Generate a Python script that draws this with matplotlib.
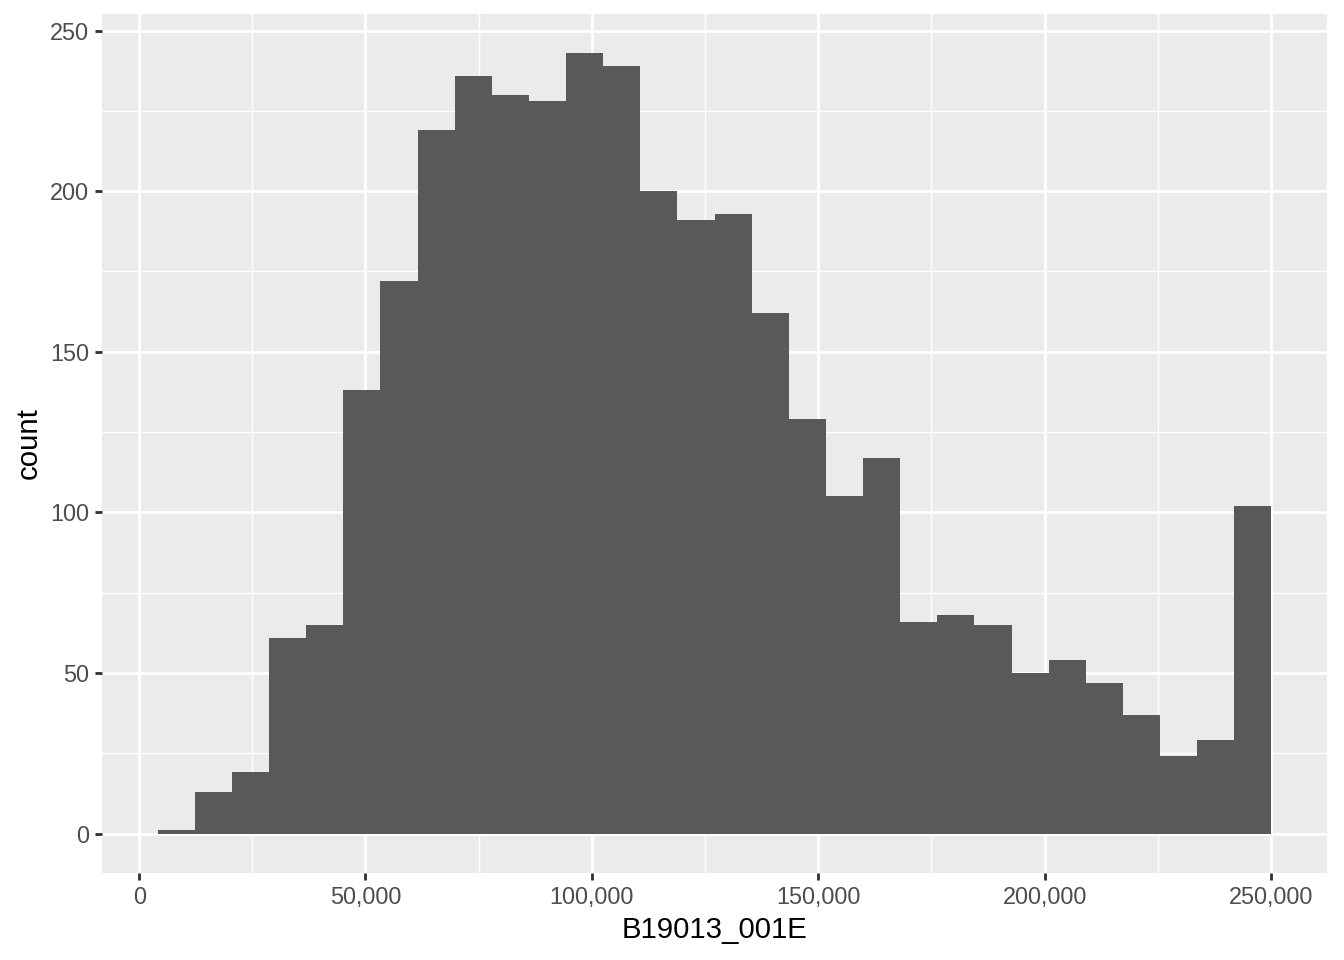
import numpy as np
import matplotlib
matplotlib.use("Agg")
import matplotlib.pyplot as plt
from matplotlib.ticker import FixedLocator, FuncFormatter

# histogram of B19013_001E, 30 bins
bin_start = 4100
bin_end = 250100
counts = [1, 13, 19, 61, 65, 138, 172, 219, 236, 230,
          228, 243, 239, 200, 191, 193, 162, 129, 105, 117,
          66, 68, 65, 50, 54, 47, 37, 24, 29, 102]
x_ticks = [0, 50000, 100000, 150000, 200000, 250000]
y_ticks = [0, 50, 100, 150, 200, 250]

edges = np.linspace(bin_start, bin_end, len(counts) + 1)

plt.rcParams["font.family"] = ["Liberation Sans", "DejaVu Sans"]

fig = plt.figure(figsize=(7, 5), dpi=192)
ax = fig.add_axes([0.0759, 0.0911, 0.9874 - 0.0759, 0.9854 - 0.0911])
ax.set_facecolor("#EBEBEB")

ax.bar(edges[:-1], counts, width=np.diff(edges), align="edge",
       color="#595959", linewidth=0, zorder=2)

# ggplot-like 5% expansion
xr = bin_end - bin_start
ax.set_xlim(bin_start - 0.05 * xr, bin_end + 0.05 * xr)
ymax = max(counts)
ax.set_ylim(-0.05 * ymax, ymax * 1.05)

ax.xaxis.set_major_locator(FixedLocator(x_ticks))
ax.yaxis.set_major_locator(FixedLocator(y_ticks))
ax.xaxis.set_minor_locator(FixedLocator([t + 25000 for t in x_ticks[:-1]]))
ax.yaxis.set_minor_locator(FixedLocator([t + 25 for t in y_ticks[:-1]]))
ax.xaxis.set_major_formatter(FuncFormatter(lambda v, _: f"{v:,.0f}"))

ax.grid(which="major", color="white", linewidth=1.07, zorder=0)
ax.grid(which="minor", color="white", linewidth=0.53, zorder=0)
ax.set_axisbelow(True)

for s in ax.spines.values():
    s.set_visible(False)

ax.tick_params(which="major", length=2.75, width=1.07, color="#333333",
               labelsize=8.8, labelcolor="#4D4D4D", pad=2.2)
ax.tick_params(which="minor", length=0)

ax.set_xlabel("B19013_001E", fontsize=11, color="black", labelpad=2.75)
ax.set_ylabel("count", fontsize=11, color="black", labelpad=2.75)

fig.savefig("out.png", dpi=192)
